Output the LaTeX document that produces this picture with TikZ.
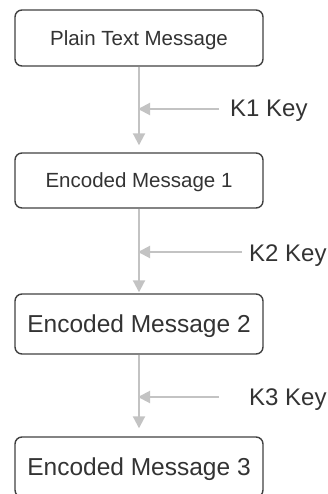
\documentclass[tikz,border=0pt]{standalone}
\usepackage{fontspec}
\setmainfont{Liberation Sans}
\usetikzlibrary{arrows.meta}
\definecolor{txt}{HTML}{333333}
\definecolor{edge}{HTML}{404040}
\definecolor{arrgray}{HTML}{C3C3C3}
\begin{document}
\begin{tikzpicture}[x=1pt,y=-1pt,
  box/.style={draw=edge, line width=1.4pt, rounded corners=7pt, minimum width=248pt,
    text=txt, inner sep=0pt, text depth=0pt},
  small/.style={font=\fontsize{20.5}{24}\selectfont, text height=14.7pt},
  big/.style={font=\fontsize{24.5}{29}\selectfont, text height=17.6pt},
  keylabel/.style={anchor=base west, inner sep=0pt, text=txt, font=\fontsize{24}{28}\selectfont},
  arr/.style={draw=arrgray, line width=2pt, -{Triangle[width=12pt,length=12pt]}}]
\useasboundingbox (0,0) rectangle (327,494);
\node[box, small, minimum height=56pt] (m0) at (139,38) {Plain Text Message};
\node[box, small, minimum height=55pt] (m1) at (139,180.5) {Encoded Message 1};
\node[box, big, minimum height=60pt] (m2) at (139,324) {Encoded Message 2};
\node[box, big, minimum height=60pt] (m3) at (139,467) {Encoded Message 3};
\node[keylabel] (k1) at (230,117) {K1 Key};
\node[keylabel] (k2) at (249,261) {K2 Key};
\node[keylabel] (k3) at (249,405) {K3 Key};
\coordinate (s1) at (219,109);
\coordinate (s2) at (242,252);
\coordinate (s3) at (219,397);
\coordinate (j1) at (138,109);
\coordinate (j2) at (138,252);
\coordinate (j3) at (138,397);
\draw[arr, shorten >=7pt] (m0) -- (m1);
\draw[arr, shorten >=1pt] (m1) -- (m2);
\draw[arr, shorten >=8pt] (m2) -- (m3);
\draw[arr] (s1) -- (j1);
\draw[arr] (s2) -- (j2);
\draw[arr] (s3) -- (j3);
\end{tikzpicture}
\end{document}
